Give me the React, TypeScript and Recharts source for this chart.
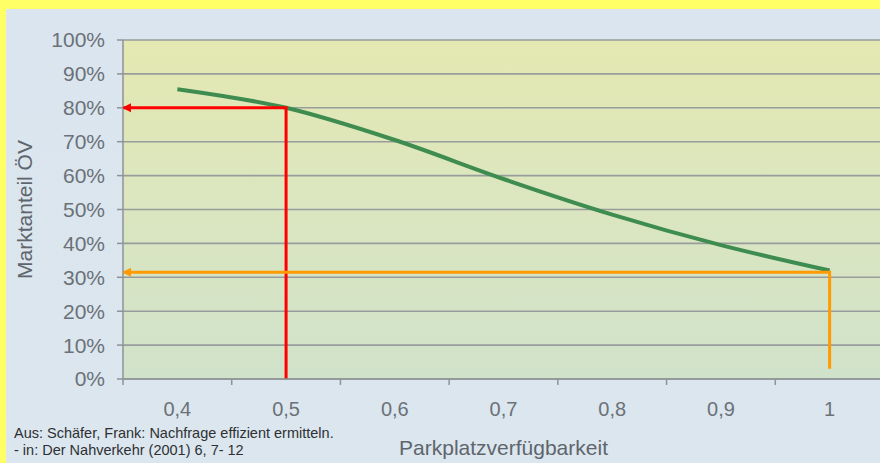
import { LineChart, Line, XAxis, YAxis, CartesianGrid } from 'recharts';

// Marktanteil ÖV in Abhängigkeit der Parkplatzverfügbarkeit
const curve = [
  { x: 0.4, y: 85.5 },
  { x: 0.5, y: 80 },
  { x: 0.6, y: 70.5 },
  { x: 0.7, y: 59 },
  { x: 0.8, y: 48.5 },
  { x: 0.9, y: 39.5 },
  { x: 1.0, y: 32 },
];

// reading lines (vertical up to the curve, then left to the axis)
const redPath = [
  { x: 0.5, y: 0 },
  { x: 0.5, y: 80 },
  { x: 0.35, y: 80 },
];
const orangePath = [
  { x: 1.0, y: 3 },
  { x: 1.0, y: 31.5 },
  { x: 0.35, y: 31.5 },
];

const xLabels = [0.4, 0.5, 0.6, 0.7, 0.8, 0.9, 1.0];
const xMinor = [0.35, 0.45, 0.55, 0.65, 0.75, 0.85, 0.95, 1.05];
const yTicks = [0, 10, 20, 30, 40, 50, 60, 70, 80, 90, 100];

const TICK_SIZE = 6;
const TICK_MARGIN = 17;
const labelColor = '#6c7178';
const axisColor = '#8e9397';

const XTick = (props: any) => {
  const { x, y, payload } = props;
  const v = payload.value;
  if (xLabels.includes(v)) {
    return (
      <text x={x} y={y} dy="0.71em" textAnchor="middle" fill={labelColor} fontSize={20} fontFamily="Liberation Sans, Arial, sans-serif">
        {String(v).replace('.', ',')}
      </text>
    );
  }
  const top = y - TICK_SIZE - TICK_MARGIN;
  return <line x1={x} x2={x} y1={top} y2={top + TICK_SIZE} stroke={axisColor} strokeWidth={1.5} />;
};

const arrowDot = (color: string, last: number) => (p: any) => {
  if (p.index !== last) return <g key={p.index} />;
  return <path key={p.index} d={`M${p.cx - 1},${p.cy} l9,-4.5 l0,9 z`} fill={color} />;
};

export default function App() {
  return (
    <div style={{ position: 'absolute', left: 0, top: 0, width: 880, height: 463, overflow: 'hidden', background: '#ffff66' }}>
      <div style={{ position: 'absolute', left: 6, top: 9, width: 874, height: 454, background: 'linear-gradient(#dae5ef, #dbe6ee)' }} />
      <div style={{ position: 'absolute', left: 0, top: 0 }}>
        <LineChart width={884} height={463} margin={{ top: 40, right: 0, bottom: 0, left: 0 }}>
          <defs>
            <linearGradient id="plotBg" x1="0" y1="0" x2="0" y2="1">
              <stop offset="0%" stopColor="#e4e8b1" />
              <stop offset="50%" stopColor="#dbe6c0" />
              <stop offset="100%" stopColor="#d0e2ca" />
            </linearGradient>
          </defs>
          <CartesianGrid vertical={false} stroke="#979c9c" strokeWidth={1.6} fill="url(#plotBg)" fillOpacity={1} />
          <XAxis
            dataKey="x"
            type="number"
            domain={[0.35, 1.05]}
            ticks={[...xLabels, ...xMinor].sort((a, b) => a - b)}
            interval={0}
            allowDataOverflow
            height={84}
            stroke={axisColor}
            strokeWidth={1.5}
            tickLine={false}
            tickSize={TICK_SIZE}
            tickMargin={TICK_MARGIN}
            tick={XTick}
            label={({ viewBox }: any) => (
              <text x={viewBox.x + viewBox.width / 2} y={455} textAnchor="middle" fill="#5f656c" fontSize={21} fontFamily="Liberation Sans, Arial, sans-serif">
                Parkplatzverfügbarkeit
              </text>
            )}
          />
          <YAxis
            type="number"
            domain={[0, 100]}
            ticks={yTicks}
            interval={0}
            width={123}
            stroke={axisColor}
            strokeWidth={1.5}
            tickSize={TICK_SIZE}
            tickMargin={12}
            tick={{ fill: labelColor, fontSize: 21, fontFamily: 'Liberation Sans, Arial, sans-serif' }}
            tickFormatter={(v: number) => `${v}%`}
            label={({ viewBox }: any) => {
              const cy = viewBox.y + viewBox.height / 2;
              return (
                <text x={32} y={cy} transform={`rotate(-90, 32, ${cy})`} textAnchor="middle" fill="#5f656c" fontSize={21} fontFamily="Liberation Sans, Arial, sans-serif">
                  Marktanteil ÖV
                </text>
              );
            }}
          />
          <Line data={curve} dataKey="y" type="monotone" stroke="#3e8c4f" strokeWidth={4} dot={false} isAnimationActive={false} />
          <Line data={redPath} dataKey="y" type="linear" stroke="#ff0000" strokeWidth={3} dot={arrowDot('#ff0000', redPath.length - 1)} isAnimationActive={false} />
          <Line data={orangePath} dataKey="y" type="linear" stroke="#ff9a00" strokeWidth={3} dot={arrowDot('#ff9a00', orangePath.length - 1)} isAnimationActive={false} />
        </LineChart>
      </div>
      <div style={{ position: 'absolute', left: 14, top: 425, fontFamily: 'Liberation Sans, Arial, sans-serif', fontSize: 14.5, lineHeight: '17px', color: '#2e3033' }}>
        <div>Aus: Schäfer, Frank: Nachfrage effizient ermitteln.</div>
        <div>- in: Der Nahverkehr (2001) 6, 7- 12</div>
      </div>
    </div>
  );
}
